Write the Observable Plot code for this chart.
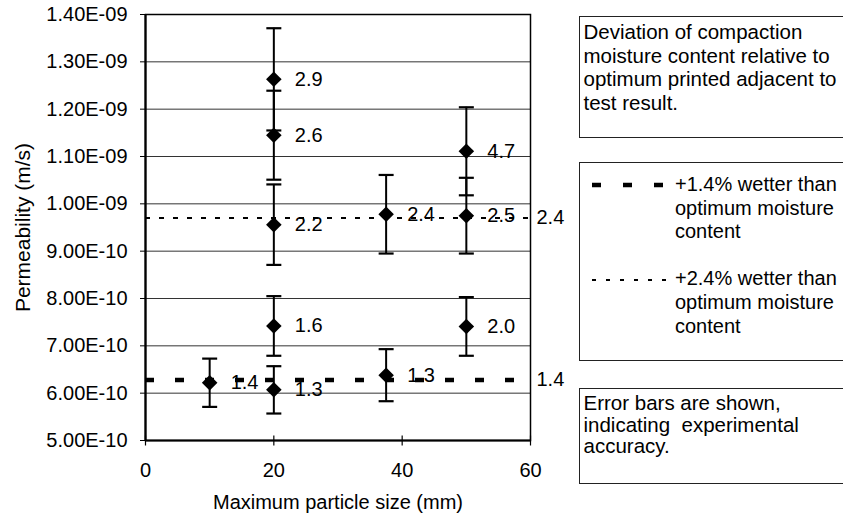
<!DOCTYPE html>
<html><head><meta charset="utf-8">
<script src="https://cdn.jsdelivr.net/npm/d3@7"></script>
<script src="https://cdn.jsdelivr.net/npm/@observablehq/plot@0.6"></script>
<style>
body{margin:0;background:#fff;}
#wrap{position:relative;width:843px;height:519px;overflow:hidden;font-family:"Liberation Sans",Arial,sans-serif;color:#000;background:#fff;}
.box{position:absolute;border:1.5px solid #222;background:transparent;font-size:20.5px;white-space:pre;box-sizing:border-box;}
.ln{position:absolute;left:0;line-height:24px;}
</style></head><body><div id="wrap"></div>
<script>
// ---- data ----
const particleSize = [10, 20, 20, 20, 20, 20, 37.5, 37.5, 50, 50, 50];
const permeability = [6.22e-10, 1.263e-9, 1.145e-9, 9.56e-10, 7.42e-10, 6.07e-10, 9.78e-10, 6.38e-10, 1.111e-9, 9.75e-10, 7.41e-10];
const accuracy     = [0.51e-10, 1.08e-10, 0.94e-10, 0.85e-10, 0.63e-10, 0.50e-10, 0.83e-10, 0.55e-10, 0.93e-10, 0.80e-10, 0.62e-10];
const deviation    = ["1.4", "2.9", "2.6", "2.2", "1.6", "1.3", "2.4", "1.3", "4.7", "2.5", "2.0"];
const refLevels = [6.28e-10, 9.70e-10];
const refLabels = ["1.4", "2.4"];
const yTicks = [5e-10, 6e-10, 7e-10, 8e-10, 9e-10, 1e-9, 1.1e-9, 1.2e-9, 1.3e-9, 1.4e-9];
const yTickLabels = ["5.00E-10", "6.00E-10", "7.00E-10", "8.00E-10", "9.00E-10", "1.00E-09", "1.10E-09", "1.20E-09", "1.30E-09", "1.40E-09"];
const xTicks = [0, 20, 40, 60];
const xTickLabels = ["0", "20", "40", "60"];
const xTitle = "Maximum particle size (mm)";
const yTitle = "Permeability (m/s)";

// ---- tables built from the arrays ----
const rows = particleSize.map((x, i) => ({x, y: permeability[i], lo: permeability[i] - accuracy[i], hi: permeability[i] + accuracy[i], label: deviation[i]}));
const caps = rows.flatMap(r => [{x: r.x, y: r.lo}, {x: r.x, y: r.hi}]);
const refRows = refLevels.map((y, i) => ({y, label: refLabels[i]}));

const hbar = {draw(ctx, size) { const r = Math.sqrt(size / Math.PI); ctx.moveTo(-r, 0); ctx.lineTo(r, 0); }};
const vbar = {draw(ctx, size) { const r = Math.sqrt(size / Math.PI); ctx.moveTo(0, -r); ctx.lineTo(0, r); }};

const chart = Plot.plot({
  width: 843, height: 519,
  marginLeft: 145, marginRight: 313, marginTop: 14, marginBottom: 79,
  style: {fontFamily: '"Liberation Sans", Arial, sans-serif', fontSize: "20px", background: "transparent", overflow: "visible"},
  x: {domain: [0, 60], ticks: xTicks, tickFormat: d => xTickLabels[xTicks.indexOf(d)], tickSize: 0, tickPadding: 22, label: null},
  y: {domain: [5e-10, 1.4e-9], ticks: yTicks, tickFormat: d => yTickLabels[yTicks.indexOf(d)], tickSize: 5, tickPadding: 13, label: null},
  marks: [
    Plot.ruleY(yTicks, {stroke: "#333", strokeWidth: 1}),
    Plot.frame({stroke: "#000", strokeWidth: 1.5}),
    Plot.ruleX([0], {stroke: "#000", strokeWidth: 2.2}),
    Plot.ruleY([5e-10], {stroke: "#000", strokeWidth: 2.2}),
    Plot.dot(xTicks, {x: d => d, y: () => 5e-10, symbol: vbar, r: 5, stroke: "#000", fill: "none", strokeWidth: 1.2}),
    Plot.ruleX(rows, {x: "x", y1: "lo", y2: "hi", stroke: "#000", strokeWidth: 2}),
    Plot.dot(caps, {x: "x", y: "y", symbol: hbar, r: 7.5, stroke: "#000", fill: "none", strokeWidth: 2.2}),
    Plot.dot(rows, {x: "x", y: "y", symbol: "diamond2", r: 7, fill: "#000", stroke: "none"}),
    Plot.text(rows, {x: "x", y: "y", text: "label", dx: 21, textAnchor: "start", fill: "#000", fontSize: 20}),
    Plot.ruleY([refRows[0]], {y: "y", x1: () => 0, x2: () => 60, stroke: "#000", strokeWidth: 4.5, strokeDasharray: "9,21"}),
    Plot.ruleY([refRows[1]], {y: "y", x1: () => 0, x2: () => 60, stroke: "#000", strokeWidth: 2, strokeDasharray: "5,9"}),
    Plot.text(refRows, {x: () => 60, y: "y", text: "label", dx: 6, textAnchor: "start", fill: "#000", fontSize: 20}),
    Plot.text([xTitle], {frameAnchor: "bottom", text: d => d, dy: 62, textAnchor: "middle", lineAnchor: "middle", fill: "#000", fontSize: 20}),
    Plot.text([yTitle], {frameAnchor: "left", text: d => d, dx: -122, rotate: -90, textAnchor: "middle", lineAnchor: "middle", fill: "#000", fontSize: 21})
  ]
});
const wrap = document.getElementById("wrap");
chart.style.position = "absolute"; chart.style.left = "0"; chart.style.top = "0";
wrap.appendChild(chart);

function box(left, top, width, height, lines, lineHeight, padTop, padLeft, fontSize) {
  const b = document.createElement("div");
  b.className = "box";
  Object.assign(b.style, {left: left + "px", top: top + "px", width: width + "px", height: height + "px", fontSize: fontSize + "px"});
  lines.forEach((t, i) => {
    if (t === null) return;
    const l = document.createElement("div");
    l.className = "ln";
    l.textContent = t;
    Object.assign(l.style, {top: (padTop + i * lineHeight) + "px", left: padLeft + "px", lineHeight: lineHeight + "px"});
    b.appendChild(l);
  });
  wrap.appendChild(b);
  return b;
}
box(579, 16, 300, 122, ["Deviation of compaction", "moisture content relative to", "optimum printed adjacent to", "test result."], 23.7, 3, 3.5, 20.5);
box(579, 162, 300, 199, ["+1.4% wetter than", "optimum moisture", "content", null, "+2.4% wetter than", "optimum moisture", "content"], 23.6, 10, 95, 20);
box(579, 388, 300, 96, ["Error bars are shown,", "indicating  experimental", "accuracy."], 21.5, 3, 3.5, 20.5);

const ns = "http://www.w3.org/2000/svg";
const leg = document.createElementNS(ns, "svg");
leg.setAttribute("width", 843); leg.setAttribute("height", 519);
Object.assign(leg.style, {position: "absolute", left: "0", top: "0", pointerEvents: "none"});
[[185, 4.5, "9,22", 663], [280, 2, "4,10", 676]].forEach(([y, w, dash, x2]) => {
  const l = document.createElementNS(ns, "line");
  l.setAttribute("x1", 592); l.setAttribute("x2", x2);
  l.setAttribute("y1", y); l.setAttribute("y2", y);
  l.setAttribute("stroke", "#000"); l.setAttribute("stroke-width", w);
  l.setAttribute("stroke-dasharray", dash);
  leg.appendChild(l);
});
wrap.appendChild(leg);
</script></body></html>
